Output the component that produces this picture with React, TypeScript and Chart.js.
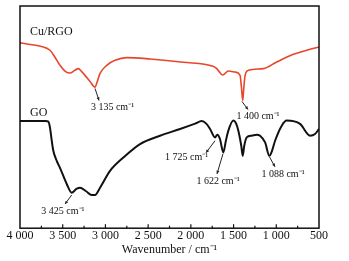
import React, { useEffect, useRef } from "react";
import { Chart, registerables } from "chart.js";

Chart.register(...registerables);

// Cu/RGO spectrum: wavenumber (cm-1) and relative transmittance (arbitrary units)
const cuWavenumber = [4000, 3900, 3760, 3649, 3590, 3532, 3470, 3415, 3360, 3317, 3280, 3239, 3180, 3122, 3095, 3063, 2985, 2888, 2751, 2478, 2088, 1740, 1700, 1680, 1627, 1561, 1483, 1424, 1408, 1393, 1380, 1365, 1327, 1151, 995, 800, 644, 500];
const cuValue = [184.3, 183, 181, 177, 170, 162, 156, 154.3, 157, 158.7, 156, 152, 146, 140.3, 146, 154, 162, 167, 169.7, 168.3, 165, 161, 159, 157, 152.3, 156.3, 155.3, 152, 140, 127, 140, 152, 157, 158.7, 165.3, 173, 177, 180.3];

// GO spectrum
const goWavenumber = [4000, 3700, 3668, 3649, 3630, 3610, 3570, 3532, 3453, 3395, 3340, 3297, 3230, 3160, 3122, 3063, 2946, 2790, 2595, 2361, 2126, 1950, 1873, 1820, 1775, 1717, 1690, 1660, 1620, 1590, 1561, 1503, 1470, 1444, 1410, 1393, 1375, 1346, 1288, 1230, 1190, 1131, 1081, 1050, 1014, 936, 878, 722, 605, 546, 500];
const goValue = [106.5, 106.5, 106, 100, 88, 77, 67, 60, 44, 35.3, 39, 40.3, 37, 33, 33, 40.3, 57, 70.3, 83.7, 92, 98.7, 104, 106.5, 104, 98.7, 90.3, 93, 89, 75.3, 87, 97, 107, 104, 97, 82, 72, 82, 90.3, 92, 93, 92, 85.3, 72, 77, 87, 102, 107, 103.7, 92, 93.7, 98.7];

const xTickValues = [4000, 3500, 3000, 2500, 2000, 1500, 1000, 500];
const seriesNames = ["Cu/RGO", "GO"];
const axisTitle = "Wavenumber / cm\u207B\u00B9";

// Annotation texts with their anchors in data coordinates
const noteTexts = ["3 135 cm\u207B\u00B9", "1 400 cm\u207B\u00B9", "1 725 cm\u207B\u00B9", "1 622 cm\u207B\u00B9", "1 088 cm\u207B\u00B9", "3 425 cm\u207B\u00B9"];
const noteX = [2917, 1214, 2049, 1682, 921, 3497];
const noteY = [120, 111, 70, 47, 54, 17];
const arrowFromX = [3122, 1401, 1717, 1624, 1080, 3395];
const arrowFromY = [139, 126, 87, 74, 71, 33];
const arrowToX = [3075, 1331, 1823, 1694, 1015, 3473];
const arrowToY = [127, 118, 75, 54, 61, 24];
const seriesLabelX = [3883, 3883];
const seriesLabelY = [195, 115];

const fmt = (v: number) => {
  const s = String(Math.round(v));
  return s.length > 3 ? s.slice(0, s.length - 3) + " " + s.slice(s.length - 3) : s;
};

const overlayPlugin = {
  id: "overlay",
  afterDatasetsDraw(chart: any) {
    const { ctx, chartArea, scales } = chart;
    const xs = scales.x;
    const ys = scales.y;
    ctx.save();
    // frame
    ctx.strokeStyle = "#111";
    ctx.lineWidth = 1.5;
    ctx.strokeRect(chartArea.left, chartArea.top, chartArea.right - chartArea.left, chartArea.bottom - chartArea.top);
    // inward ticks
    ctx.lineWidth = 1.2;
    for (let v = 3750; v > 500; v -= 250) {
      const px = xs.getPixelForValue(v);
      const len = v % 500 === 0 ? 4 : 2.5;
      ctx.beginPath();
      ctx.moveTo(px, chartArea.bottom);
      ctx.lineTo(px, chartArea.bottom - len);
      ctx.stroke();
    }
    // series labels
    ctx.fillStyle = "#111";
    ctx.font = "12px 'Liberation Serif'";
    ctx.textAlign = "left";
    ctx.textBaseline = "middle";
    seriesNames.forEach((n, i) => {
      ctx.fillText(n, xs.getPixelForValue(seriesLabelX[i]), ys.getPixelForValue(seriesLabelY[i]));
    });
    // notes
    ctx.font = "10px 'Liberation Serif'";
    ctx.textAlign = "center";
    noteTexts.forEach((t, i) => {
      ctx.fillText(t, xs.getPixelForValue(noteX[i]), ys.getPixelForValue(noteY[i]));
      const x1 = xs.getPixelForValue(arrowFromX[i]);
      const y1 = ys.getPixelForValue(arrowFromY[i]);
      const x2 = xs.getPixelForValue(arrowToX[i]);
      const y2 = ys.getPixelForValue(arrowToY[i]);
      ctx.strokeStyle = "#222";
      ctx.lineWidth = 1;
      ctx.beginPath();
      ctx.moveTo(x1, y1);
      ctx.lineTo(x2, y2);
      ctx.stroke();
      const a = Math.atan2(y2 - y1, x2 - x1);
      const h = 3.5;
      ctx.beginPath();
      ctx.moveTo(x2, y2);
      ctx.lineTo(x2 - h * Math.cos(a - 0.45), y2 - h * Math.sin(a - 0.45));
      ctx.lineTo(x2 - h * Math.cos(a + 0.45), y2 - h * Math.sin(a + 0.45));
      ctx.closePath();
      ctx.fillStyle = "#222";
      ctx.fill();
      ctx.fillStyle = "#111";
    });
    ctx.restore();
  },
};

export default function App() {
  const ref = useRef<HTMLCanvasElement | null>(null);
  useEffect(() => {
    if (!ref.current) return;
    const toPts = (xs: number[], ys: number[]) => xs.map((x, i) => ({ x, y: ys[i] }));
    const chart = new Chart(ref.current, {
      type: "line",
      data: {
        datasets: [
          {
            label: seriesNames[0],
            data: toPts(cuWavenumber, cuValue),
            borderColor: "#e8462b",
            borderWidth: 1.6,
            pointRadius: 0,
            cubicInterpolationMode: "monotone",
          },
          {
            label: seriesNames[1],
            data: toPts(goWavenumber, goValue),
            borderColor: "#111111",
            borderWidth: 2,
            pointRadius: 0,
            cubicInterpolationMode: "monotone",
          },
        ],
      },
      options: {
        responsive: false,
        animation: false,
        events: [],
        layout: { padding: { left: 20, right: 30, top: 6, bottom: 0 } },
        plugins: { legend: { display: false }, tooltip: { enabled: false } },
        scales: {
          x: {
            type: "linear",
            reverse: true,
            min: 500,
            max: 4000,
            afterBuildTicks: (s: any) => {
              s.ticks = xTickValues.map((v) => ({ value: v }));
            },
            grid: { display: false, drawTicks: false },
            border: { display: false },
            ticks: {
              autoSkip: false,
              maxRotation: 0,
              padding: 0,
              color: "#111",
              font: { family: "'Liberation Serif'", size: 12 },
              callback: (v: any) => fmt(Number(v)),
            },
            title: {
              display: true,
              text: axisTitle,
              color: "#111",
              font: { family: "'Liberation Serif'", size: 12 },
              padding: { top: 0, bottom: 4 },
            },
          },
          y: { display: false, min: 0, max: 221 },
        },
      },
      plugins: [overlayPlugin],
    } as any);
    return () => chart.destroy();
  }, []);
  return (
    <div style={{ position: "absolute", left: 0, top: 0, width: 349, height: 261, background: "#fff" }}>
      <canvas ref={ref} width={349} height={261} style={{ display: "block" }} />
    </div>
  );
}
